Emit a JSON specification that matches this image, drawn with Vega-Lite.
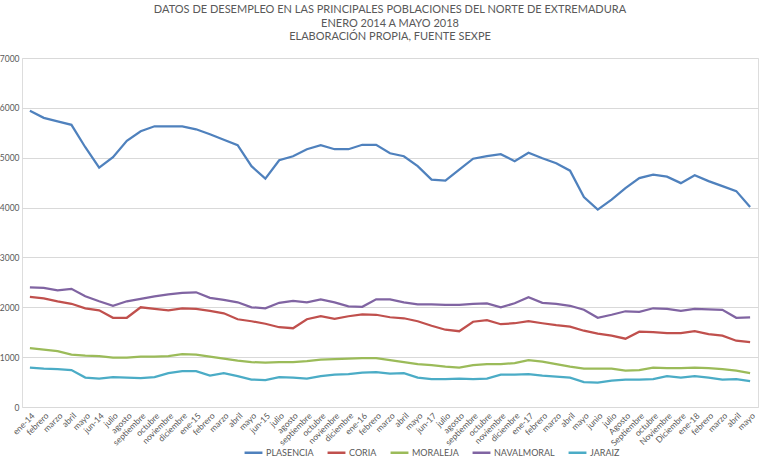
{
  "$schema": "https://vega.github.io/schema/vega-lite/v6.json",
  "autosize": {"type": "none"},
  "width": 736,
  "height": 349,
  "padding": {"left": 22, "top": 58, "right": 12, "bottom": 58},
  "background": "white",
  "title": {
    "text": ["DATOS DE DESEMPLEO EN LAS PRINCIPALES POBLACIONES DEL NORTE DE EXTREMADURA", "ENERO 2014 A  MAYO 2018", "ELABORACIÓN PROPIA, FUENTE SEXPE"],
    "font": "Lato", "fontSize": 11, "fontWeight": "normal", "color": "#595959",
    "anchor": "middle", "lineHeight": 13.5, "offset": 12
  },
  "data": {"values": [
    {"mes": "ene-14 (1)", "PLASENCIA": 5940, "CORIA": 2210, "MORALEJA": 1180, "NAVALMORAL": 2400, "JARAIZ": 790},
    {"mes": "febrero (2)", "PLASENCIA": 5800, "CORIA": 2180, "MORALEJA": 1150, "NAVALMORAL": 2390, "JARAIZ": 770},
    {"mes": "marzo (3)", "PLASENCIA": 5730, "CORIA": 2120, "MORALEJA": 1120, "NAVALMORAL": 2340, "JARAIZ": 760},
    {"mes": "abril (4)", "PLASENCIA": 5660, "CORIA": 2070, "MORALEJA": 1050, "NAVALMORAL": 2370, "JARAIZ": 740},
    {"mes": "mayo (5)", "PLASENCIA": 5210, "CORIA": 1980, "MORALEJA": 1030, "NAVALMORAL": 2220, "JARAIZ": 590},
    {"mes": "jun-14 (6)", "PLASENCIA": 4800, "CORIA": 1940, "MORALEJA": 1020, "NAVALMORAL": 2120, "JARAIZ": 570},
    {"mes": "julio (7)", "PLASENCIA": 5010, "CORIA": 1790, "MORALEJA": 990, "NAVALMORAL": 2030, "JARAIZ": 600},
    {"mes": "agosto (8)", "PLASENCIA": 5340, "CORIA": 1790, "MORALEJA": 990, "NAVALMORAL": 2120, "JARAIZ": 590},
    {"mes": "septiembre (9)", "PLASENCIA": 5530, "CORIA": 2000, "MORALEJA": 1010, "NAVALMORAL": 2170, "JARAIZ": 580},
    {"mes": "octubre (10)", "PLASENCIA": 5630, "CORIA": 1970, "MORALEJA": 1010, "NAVALMORAL": 2220, "JARAIZ": 600},
    {"mes": "noviembre (11)", "PLASENCIA": 5630, "CORIA": 1940, "MORALEJA": 1020, "NAVALMORAL": 2260, "JARAIZ": 680},
    {"mes": "diciembre (12)", "PLASENCIA": 5630, "CORIA": 1980, "MORALEJA": 1060, "NAVALMORAL": 2290, "JARAIZ": 720},
    {"mes": "ene-15 (13)", "PLASENCIA": 5570, "CORIA": 1970, "MORALEJA": 1050, "NAVALMORAL": 2300, "JARAIZ": 720},
    {"mes": "febrero (14)", "PLASENCIA": 5470, "CORIA": 1930, "MORALEJA": 1010, "NAVALMORAL": 2190, "JARAIZ": 630},
    {"mes": "marzo (15)", "PLASENCIA": 5360, "CORIA": 1880, "MORALEJA": 970, "NAVALMORAL": 2150, "JARAIZ": 680},
    {"mes": "abril (16)", "PLASENCIA": 5250, "CORIA": 1760, "MORALEJA": 930, "NAVALMORAL": 2100, "JARAIZ": 620},
    {"mes": "mayo (17)", "PLASENCIA": 4830, "CORIA": 1720, "MORALEJA": 900, "NAVALMORAL": 2000, "JARAIZ": 550},
    {"mes": "jun-15 (18)", "PLASENCIA": 4580, "CORIA": 1670, "MORALEJA": 890, "NAVALMORAL": 1980, "JARAIZ": 540},
    {"mes": "julio (19)", "PLASENCIA": 4950, "CORIA": 1600, "MORALEJA": 900, "NAVALMORAL": 2090, "JARAIZ": 600},
    {"mes": "agosto (20)", "PLASENCIA": 5030, "CORIA": 1580, "MORALEJA": 900, "NAVALMORAL": 2130, "JARAIZ": 590},
    {"mes": "septiembre (21)", "PLASENCIA": 5170, "CORIA": 1760, "MORALEJA": 920, "NAVALMORAL": 2100, "JARAIZ": 570},
    {"mes": "octubre (22)", "PLASENCIA": 5250, "CORIA": 1820, "MORALEJA": 950, "NAVALMORAL": 2160, "JARAIZ": 620},
    {"mes": "noviembre (23)", "PLASENCIA": 5170, "CORIA": 1770, "MORALEJA": 960, "NAVALMORAL": 2100, "JARAIZ": 650},
    {"mes": "diciembre (24)", "PLASENCIA": 5170, "CORIA": 1820, "MORALEJA": 970, "NAVALMORAL": 2020, "JARAIZ": 660},
    {"mes": "ene-16 (25)", "PLASENCIA": 5260, "CORIA": 1860, "MORALEJA": 980, "NAVALMORAL": 2010, "JARAIZ": 690},
    {"mes": "febrero (26)", "PLASENCIA": 5260, "CORIA": 1850, "MORALEJA": 980, "NAVALMORAL": 2160, "JARAIZ": 700},
    {"mes": "marzo (27)", "PLASENCIA": 5090, "CORIA": 1800, "MORALEJA": 940, "NAVALMORAL": 2160, "JARAIZ": 670},
    {"mes": "abril (28)", "PLASENCIA": 5030, "CORIA": 1780, "MORALEJA": 900, "NAVALMORAL": 2100, "JARAIZ": 680},
    {"mes": "mayo (29)", "PLASENCIA": 4830, "CORIA": 1720, "MORALEJA": 860, "NAVALMORAL": 2060, "JARAIZ": 590},
    {"mes": "jun-17 (30)", "PLASENCIA": 4560, "CORIA": 1630, "MORALEJA": 840, "NAVALMORAL": 2060, "JARAIZ": 560},
    {"mes": "julio (31)", "PLASENCIA": 4540, "CORIA": 1550, "MORALEJA": 810, "NAVALMORAL": 2050, "JARAIZ": 560},
    {"mes": "agosto (32)", "PLASENCIA": 4760, "CORIA": 1520, "MORALEJA": 790, "NAVALMORAL": 2050, "JARAIZ": 570},
    {"mes": "septiembre (33)", "PLASENCIA": 4980, "CORIA": 1710, "MORALEJA": 840, "NAVALMORAL": 2070, "JARAIZ": 560},
    {"mes": "octubre (34)", "PLASENCIA": 5030, "CORIA": 1740, "MORALEJA": 860, "NAVALMORAL": 2080, "JARAIZ": 570},
    {"mes": "noviembre (35)", "PLASENCIA": 5070, "CORIA": 1660, "MORALEJA": 860, "NAVALMORAL": 2000, "JARAIZ": 650},
    {"mes": "diciembre (36)", "PLASENCIA": 4930, "CORIA": 1680, "MORALEJA": 880, "NAVALMORAL": 2080, "JARAIZ": 650},
    {"mes": "ene-17 (37)", "PLASENCIA": 5100, "CORIA": 1720, "MORALEJA": 940, "NAVALMORAL": 2200, "JARAIZ": 660},
    {"mes": "febrero (38)", "PLASENCIA": 4990, "CORIA": 1680, "MORALEJA": 910, "NAVALMORAL": 2090, "JARAIZ": 630},
    {"mes": "marzo (39)", "PLASENCIA": 4890, "CORIA": 1640, "MORALEJA": 860, "NAVALMORAL": 2070, "JARAIZ": 610},
    {"mes": "abril (40)", "PLASENCIA": 4740, "CORIA": 1610, "MORALEJA": 810, "NAVALMORAL": 2030, "JARAIZ": 590},
    {"mes": "mayo (41)", "PLASENCIA": 4210, "CORIA": 1530, "MORALEJA": 770, "NAVALMORAL": 1950, "JARAIZ": 500},
    {"mes": "junio (42)", "PLASENCIA": 3960, "CORIA": 1470, "MORALEJA": 770, "NAVALMORAL": 1790, "JARAIZ": 490},
    {"mes": "julio (43)", "PLASENCIA": 4160, "CORIA": 1430, "MORALEJA": 770, "NAVALMORAL": 1850, "JARAIZ": 530},
    {"mes": "Agosto (44)", "PLASENCIA": 4390, "CORIA": 1370, "MORALEJA": 730, "NAVALMORAL": 1920, "JARAIZ": 550},
    {"mes": "Septiembre (45)", "PLASENCIA": 4590, "CORIA": 1510, "MORALEJA": 740, "NAVALMORAL": 1910, "JARAIZ": 550},
    {"mes": "octubre (46)", "PLASENCIA": 4660, "CORIA": 1500, "MORALEJA": 790, "NAVALMORAL": 1980, "JARAIZ": 560},
    {"mes": "Noviembre (47)", "PLASENCIA": 4620, "CORIA": 1480, "MORALEJA": 780, "NAVALMORAL": 1970, "JARAIZ": 620},
    {"mes": "Diciembre (48)", "PLASENCIA": 4490, "CORIA": 1480, "MORALEJA": 780, "NAVALMORAL": 1930, "JARAIZ": 590},
    {"mes": "ene-18 (49)", "PLASENCIA": 4650, "CORIA": 1520, "MORALEJA": 790, "NAVALMORAL": 1970, "JARAIZ": 620},
    {"mes": "febrero (50)", "PLASENCIA": 4530, "CORIA": 1460, "MORALEJA": 780, "NAVALMORAL": 1960, "JARAIZ": 590},
    {"mes": "marzo (51)", "PLASENCIA": 4430, "CORIA": 1430, "MORALEJA": 760, "NAVALMORAL": 1950, "JARAIZ": 550},
    {"mes": "abril (52)", "PLASENCIA": 4330, "CORIA": 1330, "MORALEJA": 730, "NAVALMORAL": 1790, "JARAIZ": 560},
    {"mes": "mayo (53)", "PLASENCIA": 4010, "CORIA": 1300, "MORALEJA": 680, "NAVALMORAL": 1800, "JARAIZ": 520}
  ]},
  "transform": [{"fold": ["PLASENCIA", "CORIA", "MORALEJA", "NAVALMORAL", "JARAIZ"], "as": ["serie", "valor"]}],
  "mark": {"type": "line", "strokeWidth": 2.25},
  "encoding": {
    "x": {
      "field": "mes", "type": "ordinal", "sort": null,
      "scale": {"type": "point", "padding": 0.57},
      "axis": {"title": null, "labelAngle": -45, "labelExpr": "split(datum.value, ' (')[0]",
        "ticks": false, "domain": false, "grid": false, "labelFont": "Lato", "labelFontSize": 8.5,
        "labelColor": "#595959", "labelPadding": 4, "labelOverlap": false}
    },
    "y": {
      "field": "valor", "type": "quantitative",
      "scale": {"domain": [0, 7000]},
      "axis": {"title": null, "values": [0, 1000, 2000, 3000, 4000, 5000, 6000, 7000], "format": "d",
        "ticks": false, "domain": false, "gridColor": "#d9d9d9", "labelFont": "Lato", "labelFontSize": 8.5,
        "labelColor": "#595959", "labelPadding": 3}
    },
    "color": {
      "field": "serie", "type": "nominal",
      "scale": {"domain": ["PLASENCIA", "CORIA", "MORALEJA", "NAVALMORAL", "JARAIZ"],
        "range": ["#4F81BD", "#C0504D", "#9BBB59", "#8064A2", "#4BACC6"]},
      "legend": {"title": null, "orient": "none", "direction": "horizontal", "legendX": 221, "legendY": 384,
        "symbolType": "stroke", "symbolSize": 320, "symbolStrokeWidth": 2.5, "labelFont": "Lato",
        "labelFontSize": 9, "labelColor": "#595959", "columnPadding": 8, "labelOffset": 2}
    }
  }
}
